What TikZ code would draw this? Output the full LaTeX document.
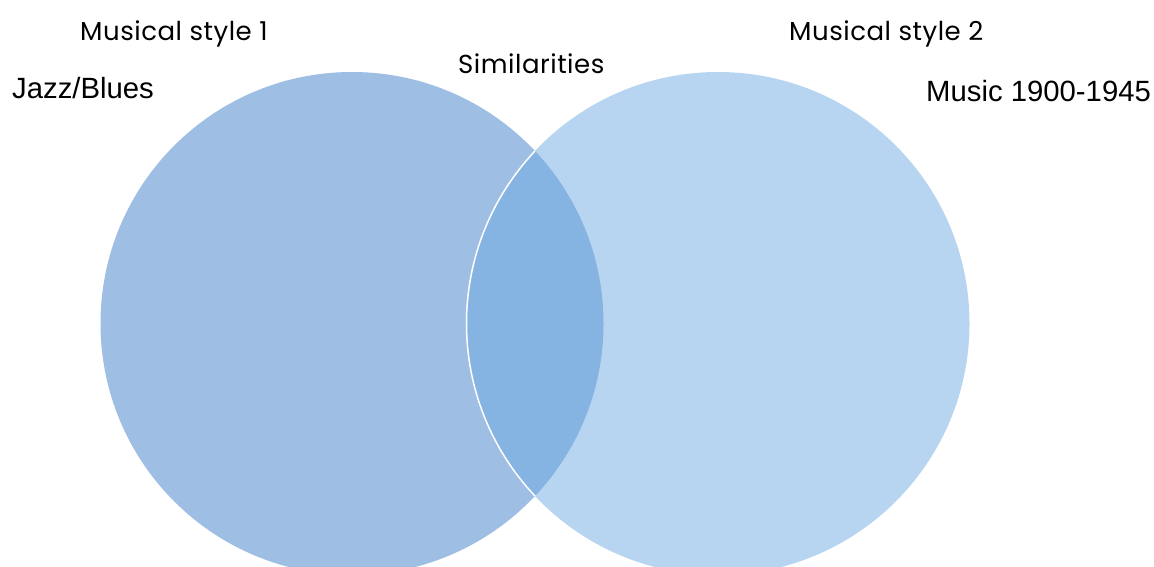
\documentclass[tikz,border=0pt]{standalone}
\usepackage{fontspec}
\setmainfont{Liberation Sans}
\newfontfamily\popp[LetterSpace=2]{Poppins}
\definecolor{leftc}{HTML}{9FBEE3}
\definecolor{rightc}{HTML}{B7D5F0}
\definecolor{midc}{HTML}{85B4E2}
\begin{document}
\begin{tikzpicture}[x=1pt,y=-1pt,
  head/.style={inner sep=0pt,anchor=base west,font=\popp\fontsize{26}{28}\selectfont},
  lab/.style={inner sep=0pt,anchor=base west,font=\fontsize{29.3}{31}\selectfont}]
\useasboundingbox (0,0) rectangle (1154,566);
\begin{scope}
\clip (0,0) rectangle (1154,566);
\fill[leftc] (352,323.5) circle (251.5);
\fill[rightc] (718,323.5) circle (251.5);
\begin{scope}
\clip (352,323.5) circle (251.5);
\fill[midc] (718,323.5) circle (251.5);
\end{scope}
\begin{scope}
\clip (352,323.5) circle (251.5);
\draw[white,line width=1.5pt] (718,323.5) circle (251.5);
\end{scope}
\end{scope}
\node[head] (s1) at (80,40) {Musical style 1};
\node[head] (sim) at (458,73) {Similarities};
\node[head] (s2) at (789,40) {Musical style 2};
\node[lab] (jb) at (12,98) {Jazz/Blues};
\node[lab] (mu) at (926,101) {Music 1900-1945};
\end{tikzpicture}
\end{document}
